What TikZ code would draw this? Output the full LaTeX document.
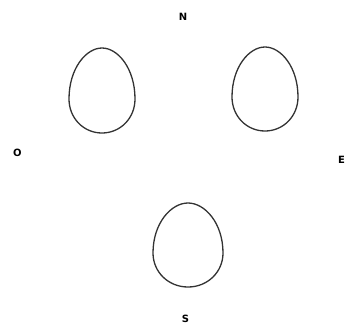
\documentclass[tikz,border=0pt]{standalone}
\usepackage{fontspec}
\setsansfont{DejaVu Sans}
\usepackage{tikz}
\usetikzlibrary{positioning}

% egg outline: centre at widest point, half width, height above, depth below
\newcommand{\eggshape}[5]{%
  \draw[egg] (#1,#2-#4) .. controls (#1+0.48*#3,#2-#4) and (#1+#3,#2-0.6*#4) .. (#1+#3,#2)
    .. controls (#1+#3,#2+0.56*#5) and (#1+0.56*#3,#2+#5) .. (#1,#2+#5)
    .. controls (#1-0.56*#3,#2+#5) and (#1-#3,#2+0.56*#5) .. (#1-#3,#2)
    .. controls (#1-#3,#2-0.6*#4) and (#1-0.48*#3,#2-#4) .. cycle;}

\begin{document}
\begin{tikzpicture}[
  x=1pt, y=-1pt,
  egg/.style={line width=1.3pt, draw=black!80},
  dir/.style={font=\sffamily\bfseries\fontsize{10}{11}\selectfont, inner sep=0pt}
]
  \useasboundingbox (0,0) rectangle (345,324);

  % compass letters
  \node[dir] (north) at (183,16.5) {N};
  \node[dir] (west)  at (17.5,152.5) {O};
  \node[dir, anchor=west] (east) at (338,160) {E};
  \node[dir] (south) at (185.5,319) {S};

  % three eggs
  \eggshape{102}{99}{33}{51}{34}
  \eggshape{265}{97}{33}{50}{34}
  \eggshape{188}{253}{35}{50}{34}

\end{tikzpicture}
\end{document}
